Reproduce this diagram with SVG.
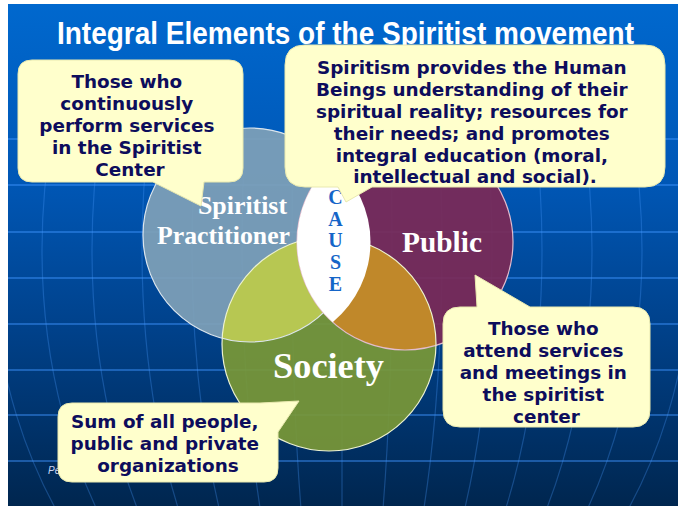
<svg xmlns="http://www.w3.org/2000/svg" width="683" height="506" viewBox="0 0 683 506">
<defs>
 <linearGradient id="bg" x1="0" y1="0" x2="0" y2="1">
  <stop offset="0" stop-color="#0068CE"/>
  <stop offset="0.35" stop-color="#0057B6"/>
  <stop offset="0.65" stop-color="#00418A"/>
  <stop offset="1" stop-color="#00264F"/>
 </linearGradient>
 <clipPath id="slide"><rect x="8" y="130" width="670" height="376"/></clipPath>
 <clipPath id="clipP"><circle cx="250" cy="235" r="107"/></clipPath>
 <clipPath id="clipQ"><circle cx="405" cy="242" r="108"/></clipPath>
</defs>
<style>
 .hl{stroke:#3E95FF;stroke-opacity:.45;stroke-width:2;fill:none}
 .mer{stroke:#4A9CFF;stroke-opacity:.3;stroke-width:1.2;fill:none}
 .call{fill:#FFFFCC;stroke:#E9E9B0;stroke-width:1}
 .ct{font-family:"DejaVu Sans",Verdana,sans-serif;font-weight:bold;font-size:18.4px;fill:#0D0D5C;text-anchor:middle}
 .vt{font-family:"Liberation Serif","Times New Roman",serif;font-weight:bold;fill:#FFFFFF}
 .cause{font-family:"Liberation Serif","Times New Roman",serif;font-weight:bold;font-size:20px;fill:#1565C8;text-anchor:middle}
 .ring{fill:none;stroke-width:1.2}
</style>
<rect width="683" height="506" fill="#FFFFFF"/>
<g id="background">
 <rect x="8" y="4" width="670" height="502" fill="url(#bg)"/>
 <g clip-path="url(#slide)">
  <line class="hl" x1="8" y1="139" x2="678" y2="139" stroke-opacity="0.25"/>
  <line class="hl" x1="8" y1="185" x2="678" y2="185"/>
  <line class="hl" x1="8" y1="232" x2="678" y2="232"/>
  <line class="hl" x1="8" y1="278" x2="678" y2="278"/>
  <line class="hl" x1="8" y1="324" x2="678" y2="324"/>
  <line class="hl" x1="8" y1="370" x2="678" y2="370"/>
  <line class="hl" x1="8" y1="415" x2="678" y2="415"/>
  <line class="hl" x1="8" y1="461" x2="678" y2="461"/>
  <line class="mer" x1="342" y1="130" x2="342" y2="506"/>
  <ellipse class="mer" cx="342" cy="250" rx="50" ry="450"/>
  <ellipse class="mer" cx="342" cy="250" rx="100" ry="450"/>
  <ellipse class="mer" cx="342" cy="250" rx="150" ry="450"/>
  <ellipse class="mer" cx="342" cy="250" rx="200" ry="450"/>
  <ellipse class="mer" cx="342" cy="250" rx="250" ry="450"/>
  <ellipse class="mer" cx="342" cy="250" rx="300" ry="450"/>
  <ellipse class="mer" cx="342" cy="250" rx="350" ry="450"/>
 </g>
 <text x="48" y="474" font-family="Liberation Sans, Arial, sans-serif" font-style="italic" font-size="10" fill="#C8D4F0">Pe</text>
</g>
<g id="title">
 <text transform="translate(345.5,44) scale(1,1.12)" x="0" y="0" text-anchor="middle" font-family="Liberation Sans, Arial, sans-serif" font-weight="bold" font-size="28" fill="#FFFFFF">Integral Elements of the Spiritist movement</text>
</g>
<g id="venn">
 <g id="practitioner">
  <circle cx="250" cy="235" r="107" fill="#7FA1B7" fill-opacity="0.92"/>
 </g>
 <g id="public">
  <circle cx="405" cy="242" r="108" fill="#7C2956" fill-opacity="0.92"/>
 </g>
 <g id="society">
  <circle cx="329" cy="344" r="107" fill="#7A9836" fill-opacity="0.92"/>
  <circle cx="329" cy="344" r="107" fill="#B7C752" clip-path="url(#clipP)"/>
  <circle cx="329" cy="344" r="107" fill="#C0882A" clip-path="url(#clipQ)"/>
 </g>
 <circle class="ring" cx="250" cy="235" r="107" stroke="#DCE6EE"/>
 <circle class="ring" cx="405" cy="242" r="108" stroke="#E2BCCD"/>
 <circle class="ring" cx="329" cy="344" r="107" stroke="#EDF2D2"/>
 <g id="cause">
  <path d="M332.7 161.8 A108 108 0 0 0 332.7 322.2 A104 104 0 0 0 332.7 161.8 Z" fill="#FFFFFF"/>
  <text class="cause" x="335.5" y="204">C</text>
  <text class="cause" x="335.5" y="225.5">A</text>
  <text class="cause" x="335.5" y="247">U</text>
  <text class="cause" x="335.5" y="268.5">S</text>
  <text class="cause" x="335.5" y="291">E</text>
 </g>
 <text class="vt" x="198" y="214" font-size="26" textLength="89" lengthAdjust="spacingAndGlyphs">Spiritist</text>
 <text class="vt" x="157" y="244" font-size="26" textLength="133" lengthAdjust="spacingAndGlyphs">Practitioner</text>
 <text class="vt" x="402" y="252" font-size="29" textLength="80" lengthAdjust="spacingAndGlyphs">Public</text>
 <text class="vt" x="273" y="378" font-size="36.5" textLength="111" lengthAdjust="spacingAndGlyphs">Society</text>
</g>
<g id="connectors"></g>
<g id="callout-practitioner">
 <path class="call" d="M32 60 H229 Q243 60 243 74 V168 Q243 182 229 182 H204 L201 206 L153 182 H32 Q18 182 18 168 V74 Q18 60 32 60 Z"/>
 <text class="ct">
  <tspan x="130" y="88">Those who</tspan>
  <tspan x="130" y="110">continuously</tspan>
  <tspan x="130" y="132">perform services</tspan>
  <tspan x="130" y="154">in the Spiritist</tspan>
  <tspan x="130" y="176">Center</tspan>
 </text>
</g>
<g id="callout-cause">
 <path class="call" d="M305 45 H645 Q665 45 665 65 V167 Q665 187 645 187 H372 L346 202 L338 187 H305 Q285 187 285 167 V65 Q285 45 305 45 Z"/>
 <text class="ct">
  <tspan x="475" y="74">Spiritism provides the Human</tspan>
  <tspan x="475" y="96">Beings understanding of their</tspan>
  <tspan x="475" y="118">spiritual reality; resources for</tspan>
  <tspan x="475" y="140">their needs; and promotes</tspan>
  <tspan x="475" y="161.5">integral education (moral,</tspan>
  <tspan x="475" y="183">intellectual and social).</tspan>
 </text>
</g>
<g id="callout-public">
 <path class="call" d="M460 307 H477 L475 275 L530 307 H633 Q650 307 650 324 V410 Q650 427 633 427 H460 Q443 427 443 410 V324 Q443 307 460 307 Z"/>
 <text class="ct">
  <tspan x="546.5" y="335">Those who</tspan>
  <tspan x="546.5" y="357">attend services</tspan>
  <tspan x="546.5" y="379">and meetings in</tspan>
  <tspan x="546.5" y="401">the spiritist</tspan>
  <tspan x="546.5" y="423">center</tspan>
 </text>
</g>
<g id="callout-society">
 <path class="call" d="M72 403 H260 L299 401 L278 432 V468 Q278 482 264 482 H72 Q58 482 58 468 V417 Q58 403 72 403 Z"/>
 <text class="ct">
  <tspan x="168" y="428">Sum of all people,</tspan>
  <tspan x="168" y="450">public and private</tspan>
  <tspan x="168" y="472">organizations</tspan>
 </text>
</g>
</svg>
